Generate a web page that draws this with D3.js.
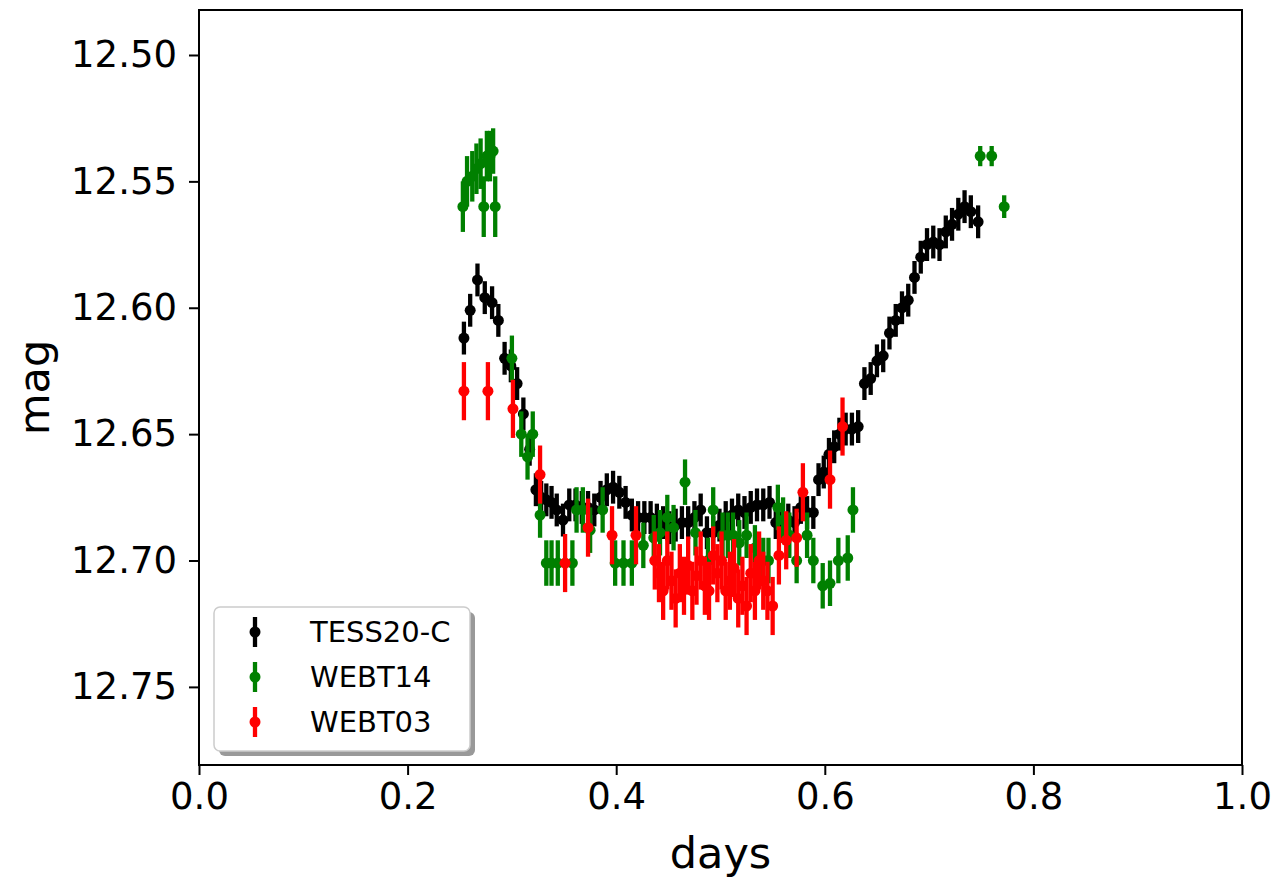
<!DOCTYPE html>
<html>
<head>
<meta charset="utf-8">
<script src="https://cdn.jsdelivr.net/npm/d3@7"></script>
<style>
  body { margin: 0; background: #fff; }
  text { font-family: "DejaVu Sans", sans-serif; fill: #000; }
</style>
</head>
<body>
<script>
// TESS20-C (black)
const tessDays = [0.254, 0.260, 0.267, 0.274, 0.281, 0.287, 0.293, 0.299, 0.305, 0.311,
  0.317, 0.323, 0.328, 0.333, 0.338, 0.343, 0.349, 0.355, 0.361, 0.367,
  0.373, 0.379, 0.385, 0.391, 0.397, 0.403, 0.409, 0.415, 0.421, 0.427,
  0.433, 0.439, 0.445, 0.451, 0.457, 0.463, 0.469, 0.475, 0.481, 0.487,
  0.493, 0.499, 0.505, 0.511, 0.517, 0.523, 0.529, 0.535, 0.541, 0.547,
  0.553, 0.559, 0.565, 0.571, 0.577, 0.583, 0.589, 0.594, 0.599, 0.604,
  0.609, 0.614, 0.620, 0.626, 0.632, 0.638, 0.644, 0.650, 0.656, 0.662,
  0.668, 0.674, 0.680, 0.686, 0.692, 0.698, 0.704, 0.710, 0.716, 0.722,
  0.728, 0.734, 0.740, 0.747];
const tessMag = [12.612, 12.601, 12.589, 12.596, 12.598, 12.605, 12.620, 12.623, 12.630, 12.642,
  12.656, 12.672, 12.675, 12.676, 12.677, 12.680, 12.684, 12.678, 12.678, 12.679,
  12.679, 12.680, 12.675, 12.672, 12.671, 12.673, 12.677, 12.682, 12.683, 12.683,
  12.683, 12.684, 12.685, 12.687, 12.686, 12.685, 12.685, 12.683, 12.680, 12.689,
  12.689, 12.686, 12.683, 12.682, 12.680, 12.681, 12.679, 12.678, 12.678, 12.677,
  12.685, 12.685, 12.684, 12.685, 12.679, 12.681, 12.681, 12.668, 12.665, 12.658,
  12.655, 12.650, 12.648, 12.648, 12.647, 12.630, 12.628, 12.621, 12.619, 12.610,
  12.605, 12.600, 12.597, 12.588, 12.580, 12.575, 12.574, 12.575, 12.570, 12.567,
  12.563, 12.560, 12.562, 12.566];
const tessErr = 0.0065;

// WEBT14 (green)
const webt14Days = [0.253, 0.257, 0.262, 0.266, 0.270, 0.273, 0.276, 0.279, 0.282, 0.284,
  0.300, 0.309, 0.315, 0.320, 0.327, 0.333, 0.338, 0.344, 0.358, 0.362,
  0.368, 0.375, 0.387, 0.399, 0.407, 0.415, 0.426, 0.436, 0.442, 0.449,
  0.455, 0.466, 0.476, 0.488, 0.493, 0.502, 0.507, 0.512, 0.518, 0.525,
  0.533, 0.541, 0.546, 0.555, 0.560, 0.566, 0.573, 0.583, 0.589, 0.598,
  0.605, 0.613, 0.622, 0.627, 0.749, 0.760, 0.772];
const webt14Mag = [12.560, 12.550, 12.548, 12.545, 12.543, 12.560, 12.540, 12.540, 12.538, 12.560,
  12.620, 12.650, 12.659, 12.650, 12.682, 12.701, 12.701, 12.701, 12.701, 12.680,
  12.680, 12.688, 12.680, 12.701, 12.701, 12.701, 12.694, 12.691, 12.689, 12.683,
  12.687, 12.669, 12.689, 12.700, 12.680, 12.690, 12.690, 12.690, 12.693, 12.690,
  12.695, 12.700, 12.700, 12.679, 12.684, 12.690, 12.700, 12.690, 12.700, 12.710,
  12.709, 12.700, 12.699, 12.680, 12.540, 12.540, 12.560];
const webt14Err = [0.010, 0.010, 0.010, 0.010, 0.010, 0.012, 0.010, 0.010, 0.009, 0.012,
  0.009, 0.009, 0.009, 0.009, 0.009, 0.009, 0.009, 0.009, 0.009, 0.009,
  0.009, 0.009, 0.009, 0.009, 0.009, 0.009, 0.009, 0.009, 0.009, 0.009,
  0.009, 0.009, 0.009, 0.009, 0.009, 0.009, 0.009, 0.009, 0.009, 0.009,
  0.009, 0.009, 0.009, 0.009, 0.009, 0.009, 0.009, 0.009, 0.009, 0.009,
  0.009, 0.009, 0.009, 0.009, 0.004, 0.004, 0.0045];

// WEBT03 (red)
const webt03Days = [0.254, 0.277, 0.301, 0.327, 0.351, 0.373, 0.396, 0.419,
  0.437, 0.441, 0.445, 0.449, 0.453, 0.457, 0.461, 0.465, 0.469, 0.473,
  0.477, 0.481, 0.485, 0.489, 0.493, 0.497, 0.501, 0.505, 0.509, 0.513,
  0.517, 0.521, 0.525, 0.529, 0.533, 0.537, 0.541, 0.545, 0.550, 0.556,
  0.563, 0.573, 0.579, 0.605, 0.617];
const webt03Mag = [12.633, 12.633, 12.640, 12.666, 12.701, 12.687, 12.690, 12.690,
  12.700, 12.705, 12.712, 12.700, 12.708, 12.715, 12.705, 12.710, 12.702, 12.712,
  12.706, 12.700, 12.710, 12.712, 12.698, 12.705, 12.700, 12.712, 12.708, 12.703,
  12.715, 12.710, 12.718, 12.705, 12.712, 12.700, 12.708, 12.712, 12.718, 12.698,
  12.692, 12.691, 12.673, 12.668, 12.647];
const webt03Err = 0.0115;

const xTicks = [0.0, 0.2, 0.4, 0.6, 0.8, 1.0];
const yTicks = [12.50, 12.55, 12.60, 12.65, 12.70, 12.75];

const W = 1279, H = 879;
const margin = { left: 199, right: 37, top: 10, bottom: 114 };

const svg = d3.select("body").append("svg")
  .attr("width", W)
  .attr("height", H);

const x = d3.scaleLinear().domain([0, 1]).range([margin.left, W - margin.right]);
const y = d3.scaleLinear().domain([12.4822, 12.7809]).range([margin.top, H - margin.bottom]);

const series = [
  { name: "TESS20-C", color: "#000000", days: tessDays, mag: tessMag, err: tessMag.map(() => tessErr) },
  { name: "WEBT14", color: "#008000", days: webt14Days, mag: webt14Mag, err: webt14Err },
  { name: "WEBT03", color: "#ff0000", days: webt03Days, mag: webt03Mag, err: webt03Mag.map(() => webt03Err) }
];

const plot = svg.append("g");

series.forEach(function(s) {
  const pts = s.days.map((d, i) => ({ d: d, m: s.mag[i], e: s.err[i] }));
  const g = plot.append("g");
  g.selectAll("line")
    .data(pts)
    .enter()
    .append("line")
    .attr("x1", p => x(p.d))
    .attr("x2", p => x(p.d))
    .attr("y1", p => y(p.m - p.e))
    .attr("y2", p => y(p.m + p.e))
    .attr("stroke", s.color)
    .attr("stroke-width", 4.3);
  g.selectAll("circle")
    .data(pts)
    .enter()
    .append("circle")
    .attr("cx", p => x(p.d))
    .attr("cy", p => y(p.m))
    .attr("r", 5.5)
    .attr("fill", s.color);
});

// axes
const xAxis = svg.append("g")
  .attr("transform", "translate(0," + (H - margin.bottom) + ")")
  .call(d3.axisBottom(x).tickValues(xTicks).tickFormat(d3.format(".1f")).tickSizeInner(10).tickSizeOuter(0).tickPadding(8));
const yAxis = svg.append("g")
  .attr("transform", "translate(" + margin.left + ",0)")
  .call(d3.axisLeft(y).tickValues(yTicks).tickFormat(d3.format(".2f")).tickSizeInner(10).tickSizeOuter(0).tickPadding(12));

[xAxis, yAxis].forEach(function(a) {
  a.select(".domain").remove();
  a.selectAll(".tick line").attr("stroke", "#000").attr("stroke-width", 2);
  a.selectAll(".tick text")
    .style("font-family", "DejaVu Sans, sans-serif")
    .style("font-size", "37px")
    .attr("fill", "#000");
});

// frame
svg.append("rect")
  .attr("x", margin.left)
  .attr("y", margin.top)
  .attr("width", W - margin.left - margin.right)
  .attr("height", H - margin.top - margin.bottom)
  .attr("fill", "none")
  .attr("stroke", "#000")
  .attr("stroke-width", 2);

// axis labels
svg.append("text")
  .attr("x", (margin.left + W - margin.right) / 2)
  .attr("y", 868)
  .attr("text-anchor", "middle")
  .style("font-size", "43px")
  .text("days");

svg.append("text")
  .attr("transform", "translate(49," + ((margin.top + H - margin.bottom) / 2) + ") rotate(-90)")
  .attr("text-anchor", "middle")
  .style("font-size", "43px")
  .text("mag");

// legend
const leg = svg.append("g").attr("transform", "translate(214,607)");
leg.append("rect")
  .attr("x", 5).attr("y", 5)
  .attr("width", 256).attr("height", 144)
  .attr("rx", 6)
  .attr("fill", "#999");
leg.append("rect")
  .attr("width", 256).attr("height", 144)
  .attr("rx", 6)
  .attr("fill", "#fff")
  .attr("stroke", "#ccc")
  .attr("stroke-width", 1.5);

const rows = leg.selectAll("g.row")
  .data(series)
  .enter()
  .append("g")
  .attr("class", "row")
  .attr("transform", (s, i) => "translate(41," + (25 + i * 45) + ")");
rows.append("line")
  .attr("y1", -15).attr("y2", 15)
  .attr("stroke", s => s.color)
  .attr("stroke-width", 4.3);
rows.append("circle")
  .attr("r", 5.5)
  .attr("fill", s => s.color);
rows.append("text")
  .attr("x", 55)
  .attr("y", 10)
  .style("font-size", "29px")
  .text(s => s.name);
</script>
</body>
</html>
